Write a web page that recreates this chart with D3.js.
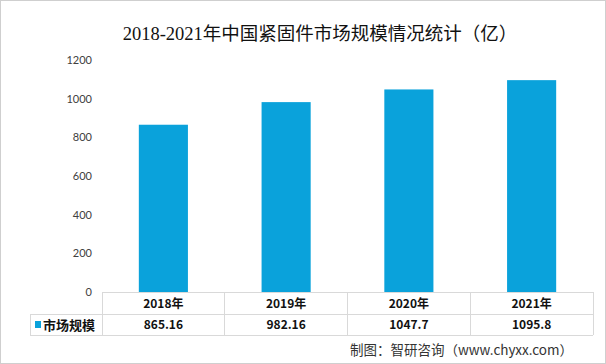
<!DOCTYPE html>
<html>
<head>
<meta charset="utf-8">
<script src="https://cdn.jsdelivr.net/npm/d3@7"></script>
<style>
  body { margin: 0; background: #fff; }
  svg { display: block; }
</style>
</head>
<body>
<div id="chart"></div>
<script>
// data
const years = ["2018年", "2019年", "2020年", "2021年"];
const values = [865.16, 982.16, 1047.7, 1095.8];
const valueLabels = ["865.16", "982.16", "1047.7", "1095.8"];
const yTicks = [0, 200, 400, 600, 800, 1000, 1200];
const seriesName = "市场规模";

const W = 606, H = 364;
const barColor = "#0aa2db";
const lineColor = "#d9d9d9";
const cjk = "'Noto Sans CJK SC', sans-serif";

const svg = d3.select("#chart").append("svg")
  .attr("width", W)
  .attr("height", H);

// outer frame
svg.append("rect")
  .attr("x", 0.5).attr("y", 0.5)
  .attr("width", W - 1).attr("height", H - 1)
  .attr("fill", "#fff")
  .attr("stroke", "#cfcfcf");

// title
svg.append("text")
  .attr("x", 320).attr("y", 40)
  .attr("text-anchor", "middle")
  .style("font-family", "'Liberation Serif', 'Noto Sans CJK SC', serif")
  .style("font-size", "18.5px")
  .attr("fill", "#111")
  .text("2018-2021年中国紧固件市场规模情况统计（亿）");

const plotLeft = 102, plotRight = 593, plotTop = 60, zero = 292;

const x = d3.scaleBand()
  .domain(years)
  .range([plotLeft, plotRight])
  .paddingInner(0.6)
  .paddingOuter(0.3);

const col = d3.scaleBand()
  .domain(years)
  .range([plotLeft, plotRight]);

const y = d3.scaleLinear()
  .domain([0, 1200])
  .range([zero, plotTop]);

// y axis (labels only)
const yAxis = svg.append("g")
  .attr("transform", "translate(" + (plotLeft - 10) + ",0)")
  .call(d3.axisLeft(y).tickValues(yTicks).tickFormat(d3.format("d")).tickSize(0).tickPadding(0));
yAxis.select(".domain").remove();
yAxis.selectAll("text")
  .style("font-family", "Lato, 'Open Sans', sans-serif")
  .style("font-size", "11px")
  .attr("fill", "#404040");

// bars
svg.selectAll("rect.bar")
  .data(values)
  .enter()
  .append("rect")
  .attr("class", "bar")
  .attr("x", (d, i) => x(years[i]))
  .attr("y", d => y(d))
  .attr("width", x.bandwidth())
  .attr("height", d => zero - y(d))
  .attr("fill", barColor);

// data table
const rowTop = zero, rowMid = 314, rowBot = 335, tableLeft = 30;
const g = svg.append("g")
  .attr("stroke", lineColor)
  .attr("stroke-width", 1)
  .attr("shape-rendering", "crispEdges");

g.append("line").attr("x1", plotLeft).attr("x2", plotRight).attr("y1", rowTop).attr("y2", rowTop);
g.append("line").attr("x1", tableLeft).attr("x2", plotRight).attr("y1", rowMid).attr("y2", rowMid);
g.append("line").attr("x1", tableLeft).attr("x2", plotRight).attr("y1", rowBot).attr("y2", rowBot);
g.append("line").attr("x1", tableLeft).attr("x2", tableLeft).attr("y1", rowMid).attr("y2", rowBot);
g.selectAll("line.v")
  .data(years)
  .enter()
  .append("line")
  .attr("class", "v")
  .attr("x1", d => col(d)).attr("x2", d => col(d))
  .attr("y1", rowTop).attr("y2", rowBot);
g.append("line").attr("x1", plotRight).attr("x2", plotRight).attr("y1", rowTop).attr("y2", rowBot);

svg.selectAll("text.year")
  .data(years)
  .enter()
  .append("text")
  .attr("class", "year")
  .attr("x", d => col(d) + col.bandwidth() / 2)
  .attr("y", 308)
  .attr("text-anchor", "middle")
  .style("font-family", cjk)
  .style("font-size", "12px")
  .style("font-weight", "bold")
  .attr("fill", "#111")
  .text(d => d);

svg.selectAll("text.val")
  .data(valueLabels)
  .enter()
  .append("text")
  .attr("class", "val")
  .attr("x", (d, i) => col(years[i]) + col.bandwidth() / 2)
  .attr("y", 329)
  .attr("text-anchor", "middle")
  .style("font-family", cjk)
  .style("font-size", "12px")
  .style("font-weight", "bold")
  .attr("fill", "#111")
  .text(d => d);

// legend key in table
svg.append("rect")
  .attr("x", 35).attr("y", 321)
  .attr("width", 6).attr("height", 7)
  .attr("fill", barColor);
svg.append("text")
  .attr("x", 43).attr("y", 330)
  .style("font-family", cjk)
  .style("font-size", "13px")
  .style("font-weight", "bold")
  .attr("fill", "#111")
  .text(seriesName);

// source
svg.append("text")
  .attr("x", 573).attr("y", 355)
  .attr("text-anchor", "end")
  .style("font-family", cjk)
  .style("font-size", "13.5px")
  .attr("fill", "#333")
  .text("制图：智研咨询（www.chyxx.com）");
</script>
</body>
</html>
